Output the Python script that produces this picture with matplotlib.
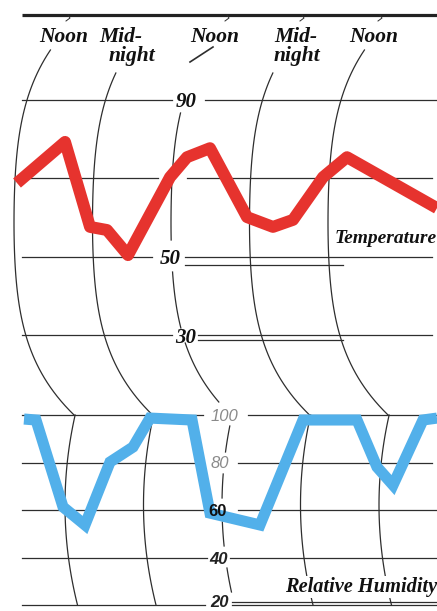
import numpy as np
import matplotlib
matplotlib.use("Agg")
import matplotlib.pyplot as plt

# ---------------- data ----------------
temp_hours = [0.46, 7.80, 11.62, 14.22, 17.43, 23.85, 26.45, 29.96, 35.62, 39.59, 42.65, 47.24, 50.90, 64.66]
temp_values = [68.8, 79.3, 57.6, 56.8, 50.4, 70.3, 75.4, 77.7, 60.1, 57.6, 59.4, 70.3, 75.4, 62.4]

hum_hours = [1.53, 3.36, 7.49, 10.85, 14.68, 18.19, 20.79, 27.21, 29.96, 37.60, 44.18, 52.43, 55.49, 57.94, 62.52, 64.66]
hum_values = [98.3, 97.9, 61.3, 53.7, 80.2, 86.5, 98.7, 97.9, 58.7, 53.7, 97.9, 97.9, 78.1, 70.5, 97.9, 98.7]

time_marks = [0, 12, 24, 36, 48]
time_labels = ["Noon", "Mid-\nnight", "Noon", "Mid-\nnight", "Noon"]

temp_levels = [90, 70, 50, 30]
temp_tick_labels = ["90", "", "50", "30"]
hum_levels = [100, 80, 60, 40, 20]
hum_tick_labels = ["100", "80", "60", "40", "20"]

# ---------------- figure geometry ----------------
W, H = 437, 611
fig = plt.figure(figsize=(W / 100, H / 100), dpi=100, facecolor="white")

X0, XPH = 14.0, 6.5417          # pixel x of hour 0, pixels per hour
T_Y90, T_PPD = 100.0, 3.9167     # pixel y of 90 deg, pixels per degree
H_Y100, H_PPP = 415.0, 2.375     # pixel y of 100 %, pixels per percent

def h2x(h):
    return X0 + XPH * h

axp = fig.add_axes([0, 0, 1, 1])
axp.set_xlim(0, W)
axp.set_ylim(H, 0)
axp.axis("off")

axT = fig.add_axes([0, 0, 1, 1], facecolor="none")
axT.set_xlim(-X0 / XPH, (W - X0) / XPH)
axT.set_ylim(90 - (H - T_Y90) / T_PPD, 90 + T_Y90 / T_PPD)
axT.axis("off")

axH = fig.add_axes([0, 0, 1, 1], facecolor="none")
axH.set_xlim(-X0 / XPH, (W - X0) / XPH)
axH.set_ylim(100 - (H - H_Y100) / H_PPP, 100 + H_Y100 / H_PPP)
axH.axis("off")

GRID = "#2e2e2e"
LW = 0.9
serif = dict(family=["Liberation Serif", "DejaVu Serif"], weight="bold", style="italic")

# ---------------- top border ----------------
axp.plot([22, W], [15, 15], color="#222222", lw=2.3, solid_capstyle="butt")
for hx in [68, 227, 302, 380]:
    axp.plot([hx, hx + 2, hx - 2], [15, 18, 21], color=GRID, lw=0.7)

# ---------------- horizontal grid lines ----------------
t_segments = {90: [(22, 172), (205, 437)],
              70: [(22, 158), (187, 432)],
              50: [(22, 152), (185, 432)],
              30: [(22, 172), (198, 432)]}
for lev in temp_levels:
    for a, b in t_segments[lev]:
        axT.axhline(lev, xmin=a / W, xmax=b / W, color=GRID, lw=LW)
axT.axhline(50 - 8 / T_PPD, xmin=185 / W, xmax=343 / W, color=GRID, lw=LW)
axT.axhline(30 - 5 / T_PPD, xmin=198 / W, xmax=343 / W, color=GRID, lw=LW)

h_segments = {100: [(22, 203), (248, 437)],
              80: [(22, 203), (238, 432)],
              60: [(22, 203), (238, 437)],
              40: [(22, 207), (230, 437)],
              20: [(22, 205), (232, 437)]}
for lev in hum_levels:
    for a, b in h_segments[lev]:
        axH.axhline(lev, xmin=a / W, xmax=b / W, color=GRID, lw=LW)
axH.axhline(20 + 3.5 / H_PPP, xmin=232 / W, xmax=437 / W, color=GRID, lw=LW)

# ---------------- curved time lines ----------------
def top_off(y):
    dy = y - 223.0
    off = 5.8e-4 * dy ** 2 + 2.846e-8 * dy ** 4
    return np.where(dy < 0, 0.85 * off, off)

def bot_off(y):
    return (y - 505.0) ** 2 / 800.0

def arc(h, y0, y1, section):
    ys = np.linspace(y0, y1, 80)
    if section == "top":
        xs = h2x(h) + top_off(ys)
    else:
        xs = h2x(h) + 51 + bot_off(ys)
    axp.plot(xs, ys, color=GRID, lw=LW)

for h in time_marks:
    if h == 24:
        for y0, y1 in [(113, 240), (272, 328), (343, 402)]:
            arc(h, y0, y1, "top")
        for y0, y1 in [(426, 452), (474, 498), (522, 546), (568, 592)]:
            arc(h, y0, y1, "bot")
        axp.plot([190, 213], [62, 47], color=GRID, lw=1.2)
    else:
        y_start = 50 if h % 24 == 0 else 73
        arc(h, y_start, 415, "top")
        arc(h, 415, 605, "bot")

# ---------------- data lines ----------------
axT.plot(temp_hours, temp_values, color="#e6332e", lw=8.6,
         solid_joinstyle="round", solid_capstyle="butt", zorder=5)
axH.plot(hum_hours, hum_values, color="#52b0ea", lw=8.0,
         solid_joinstyle="miter", solid_capstyle="butt", zorder=5)

# ---------------- labels ----------------
label_x = [39, 99, 190, 274, 349]
for lab, lx in zip(time_labels, label_x):
    parts = lab.split("\n")
    axp.text(lx, 42, parts[0], fontsize=15.5, ha="left", va="baseline", color="#111111", **serif)
    if len(parts) > 1:
        axp.text(lx + (10 if lx < 150 else 0), 61, parts[1], fontsize=15.5, ha="left",
                 va="baseline", color="#111111", **serif)

temp_label_x = [186, 0, 170, 186]
for lev, lab, lx in zip(temp_levels, temp_tick_labels, temp_label_x):
    if lab:
        axT.text((lx - X0) / XPH, lev, lab, fontsize=15, ha="center", va="center_baseline",
                 color="#111111", zorder=7, **serif)

hum_label_x = [224, 220, 218, 219, 220]
hum_label_dy = [0, 0, 0, 0, 1.5]
hum_styles = [dict(color="#8a8a8a", style="italic", weight="normal"),
              dict(color="#8a8a8a", style="italic", weight="normal"),
              dict(color="#111111", style="normal", weight="bold"),
              dict(color="#222222", style="italic", weight="bold"),
              dict(color="#222222", style="italic", weight="bold")]
for lev, lab, lx, dy, st in zip(hum_levels, hum_tick_labels, hum_label_x, hum_label_dy, hum_styles):
    axH.text((lx - X0) / XPH, lev + dy, lab, fontsize=12, ha="center", va="center_baseline",
             family=["Liberation Sans", "DejaVu Sans"], zorder=7, **st)

axp.text(437, 243, "Temperature", fontsize=14, ha="right", va="baseline", color="#111111",
         bbox=dict(facecolor="white", edgecolor="none", pad=0.5), **serif)
axp.text(437, 592, "Relative Humidity", fontsize=14.7, ha="right", va="baseline", color="#111111",
         bbox=dict(facecolor="white", edgecolor="none", pad=0.5), **serif)

fig.savefig("out.png", dpi=100, facecolor="white")
